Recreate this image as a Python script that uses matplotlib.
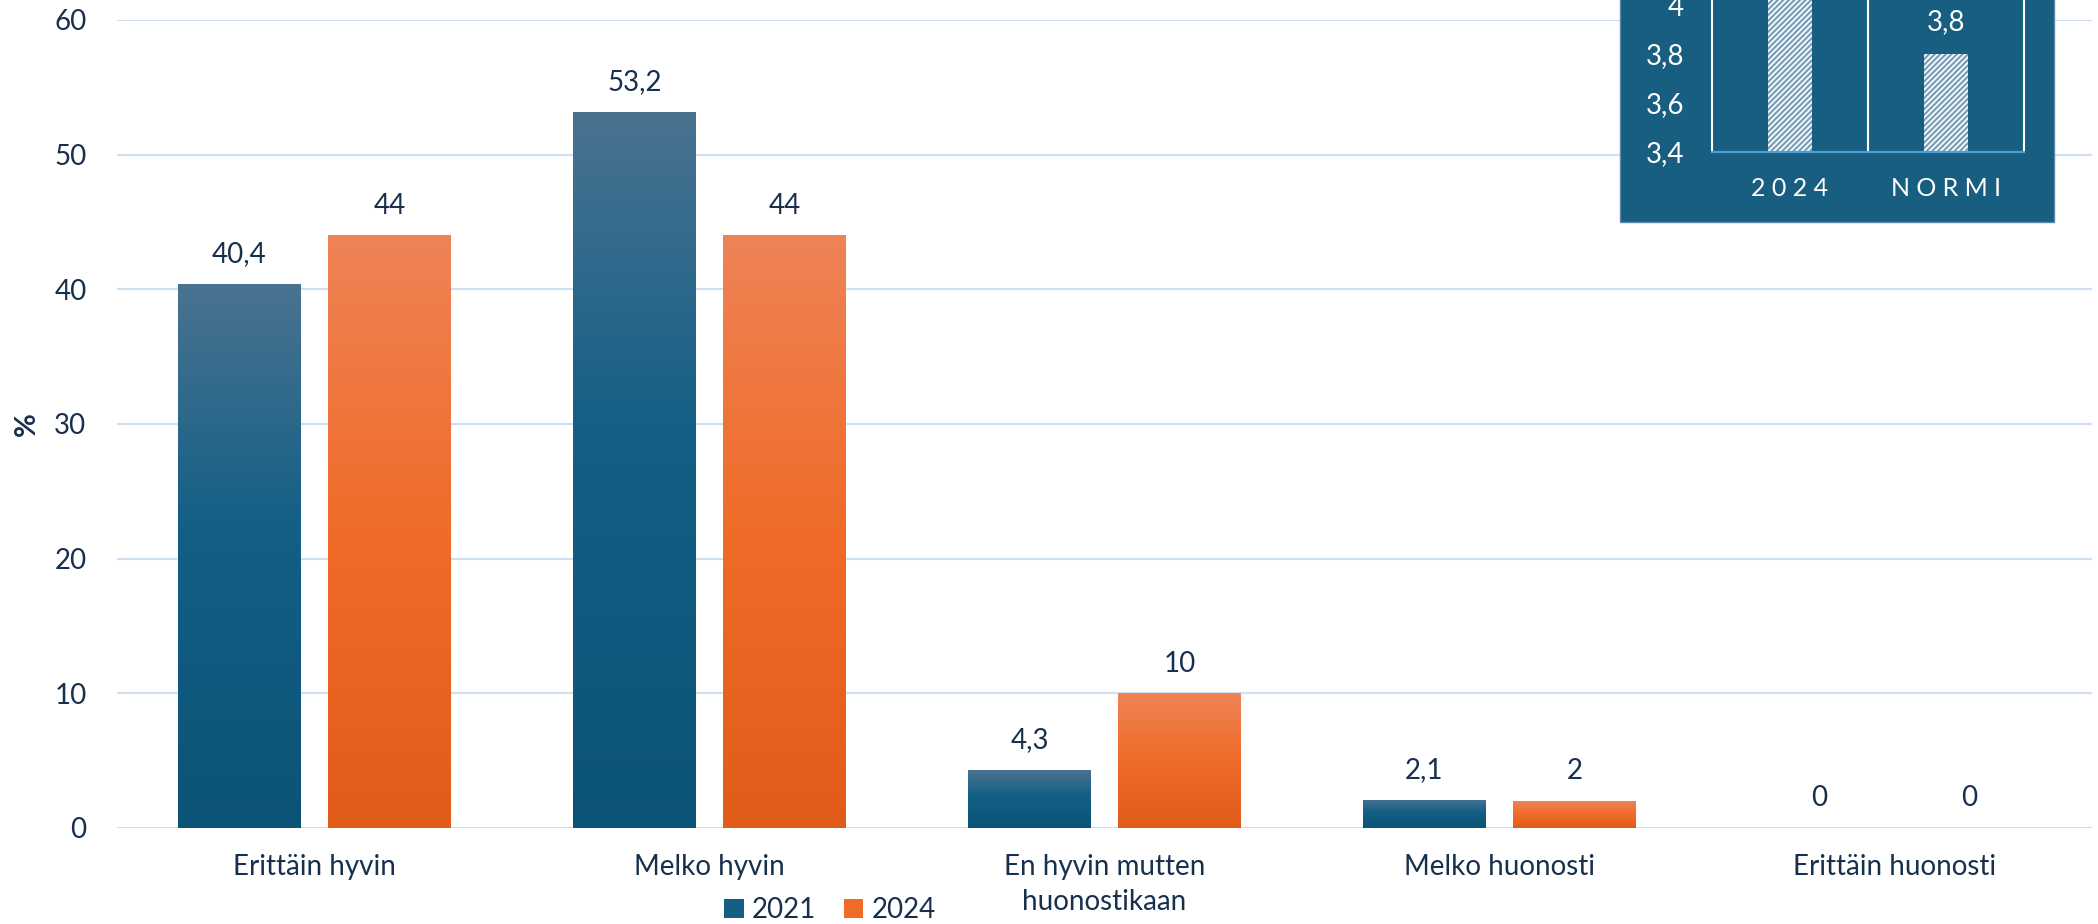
import matplotlib
matplotlib.use('Agg')
import matplotlib.pyplot as plt
import numpy as np
from matplotlib.colors import LinearSegmentedColormap
from matplotlib.patches import Rectangle

categories = ["Erittäin hyvin", "Melko hyvin", "En hyvin mutten\nhuonostikaan",
              "Melko huonosti", "Erittäin huonosti"]
series = ["2021", "2024"]
v2021 = [40.4, 53.2, 4.3, 2.1, 0]
v2024 = [44, 44, 10, 2, 0]
yticks = [0, 10, 20, 30, 40, 50, 60]

inset_cats = ["2024", "NORMI"]
inset_vals = [4.1, 3.8]
inset_yticks = [3.4, 3.6, 3.8, 4.0]

plt.rcParams['font.family'] = ['Lato', 'DejaVu Sans']
plt.rcParams['hatch.linewidth'] = 1.6
TXT = '#17304d'
FS = 20

def fmt(v):
    return f"{v:g}".replace('.', ',')

W, H = 2098, 924
fig = plt.figure(figsize=(W / 100, H / 100), dpi=100)
ax = fig.add_axes([117 / W, 1 - 828 / H, (2092 - 117) / W, (828 - 20) / H])

blue_cmap = LinearSegmentedColormap.from_list('b', [(0, '#0b5477'), (0.55, '#135f85'), (1, '#4a7391')])
orange_cmap = LinearSegmentedColormap.from_list('o', [(0, '#e05c18'), (0.5, '#f06b28'), (1, '#ee8356')])
grad = np.linspace(0, 1, 256).reshape(-1, 1)

x = np.arange(len(categories))
bw = 0.31
off = 0.19
bars1 = ax.bar(x - off, v2021, bw, color='#135f85', label=series[0], zorder=2)
bars2 = ax.bar(x + off, v2024, bw, color='#f06b28', label=series[1], zorder=2)

for bars, cmap in ((bars1, blue_cmap), (bars2, orange_cmap)):
    for p in bars:
        x0, y0 = p.get_x(), p.get_y()
        w, h = p.get_width(), p.get_height()
        if h <= 0:
            continue
        im = ax.imshow(grad, cmap=cmap, origin='lower', aspect='auto',
                       extent=[x0, x0 + w, y0, y0 + h], zorder=3)
        im.set_clip_path(p)

for bars, vals in ((bars1, v2021), (bars2, v2024)):
    for p, v in zip(bars, vals):
        ax.annotate(fmt(v), (p.get_x() + p.get_width() / 2, v), xytext=(0, 12),
                    textcoords='offset points', ha='center', va='bottom',
                    fontsize=FS, color=TXT)

ax.set_xlim(-0.5, len(categories) - 0.5)
ax.set_ylim(0, 60)
ax.set_yticks(yticks)
ax.set_yticklabels([fmt(t) for t in yticks], fontsize=FS, color=TXT)
ax.set_xticks(x)
ax.set_xticklabels(categories, fontsize=FS, color=TXT, linespacing=1.4)
ax.tick_params(axis='both', length=0)
ax.tick_params(axis='x', pad=19)
ax.tick_params(axis='y', pad=22)
ax.grid(axis='y', color='#cfe0f3', linewidth=1.6, zorder=0)
ax.set_axisbelow(True)
for s in ax.spines.values():
    s.set_visible(False)
ax.set_ylabel('%', fontsize=FS + 1, fontweight='bold', color=TXT, labelpad=10)

leg = fig.legend(handles=[bars1, bars2], labels=series, loc='center',
                 bbox_to_anchor=(830 / W, 1 - 910 / H), ncol=2, frameon=False,
                 fontsize=FS, handlelength=0.7, handleheight=0.7,
                 handletextpad=0.3, columnspacing=1.0, labelcolor=TXT)

# inset box
BOX = '#175e80'
fig.patches.append(Rectangle((1620 / W, 1 - 222 / H), (2054 - 1620) / W, 0.3,
                             transform=fig.transFigure, facecolor=BOX,
                             edgecolor='#5a8aa8', linewidth=1, zorder=5))
iax = fig.add_axes([1712 / W, 1 - 152 / H, (2024 - 1712) / W, 196 / H], zorder=6)
iax.set_facecolor(BOX)
ix = np.arange(len(inset_cats))
ib = iax.bar(ix, inset_vals, 0.28, facecolor='white', edgecolor='#7a9fba',
             hatch='//////', linewidth=0, zorder=2)
for p, v in zip(ib, inset_vals):
    iax.annotate(fmt(v), (p.get_x() + p.get_width() / 2, v), xytext=(0, 14),
                 textcoords='offset points', ha='center', va='bottom',
                 fontsize=FS, color='white')
iax.set_xlim(-0.5, 1.5)
iax.set_ylim(3.4, 4.2)
iax.set_yticks(inset_yticks)
iax.set_yticklabels([fmt(t) for t in inset_yticks], fontsize=FS, color='white')
iax.set_xticks(ix)
iax.set_xticklabels([' '.join(c) for c in inset_cats], fontsize=FS - 2, color='white')
iax.tick_params(axis='both', length=0)
iax.tick_params(axis='x', pad=18)
iax.tick_params(axis='y', pad=20)
iax.axvline(0.5, color='white', linewidth=1.5, zorder=1)
iax.spines['top'].set_visible(False)
iax.spines['left'].set_color('white')
iax.spines['right'].set_color('white')
iax.spines['left'].set_linewidth(1.5)
iax.spines['right'].set_linewidth(1.5)
iax.spines['bottom'].set_color('#4aa0d8')
iax.spines['bottom'].set_linewidth(1.5)

fig.savefig('out.png', dpi=100, facecolor='white')
